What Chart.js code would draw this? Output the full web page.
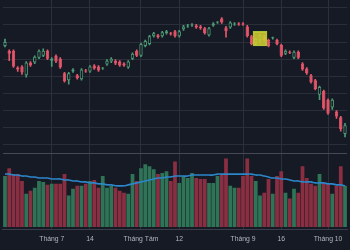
<!DOCTYPE html>
<html>
<head>
<meta charset="utf-8">
<script src="https://cdn.jsdelivr.net/npm/chart.js@4"></script>
<style>
  html, body { margin: 0; padding: 0; background: #161a25; }
  #wrap { width: 350px; height: 250px; }
</style>
</head>
<body>
<div id="wrap"><canvas id="chart"></canvas></div>
<script>
// daily candles, price in thousand VND
const opens = [25.3,24.8,24.8,23.1,23.2,22.3,23.6,23.6,24.1,24.3,24.8,23.8,24.3,24.0,22.5,21.8,22.7,22.3,21.9,22.8,
  22.7,23.3,23.2,23.0,23.4,23.7,23.8,23.7,23.5,23.1,24.0,24.8,24.3,25.3,25.5,26.3,26.4,26.3,26.6,26.6,
  26.8,26.3,27.0,27.3,27.4,27.4,27.3,27.1,26.4,27.4,27.7,28.1,27.2,27.2,27.5,27.6,27.6,27.3,26.3,25.6,
  25.9,26.3,25.9,26.1,25.9,25.4,24.5,24.7,24.1,24.7,23.5,23.0,22.3,21.8,20.3,20.7,19.8,19.0,18.6,18.0,16.3];
const closes = [25.7,24.5,23.2,22.9,22.6,23.6,23.3,24.2,24.8,24.8,24.0,24.0,23.7,23.1,21.7,22.5,22.9,22.0,22.9,22.7,
  23.2,23.0,22.8,23.0,23.8,24.0,23.5,23.3,23.3,23.7,24.5,24.3,25.5,25.8,26.3,26.6,26.2,26.7,26.8,26.5,
  26.3,26.8,27.3,27.4,27.5,27.2,27.1,26.6,27.1,27.6,27.7,27.7,26.8,27.7,27.6,27.5,27.5,26.3,25.5,26.0,
  26.4,25.9,25.3,26.1,25.5,24.3,24.8,24.6,24.7,24.1,22.9,22.5,21.6,20.9,21.1,18.9,18.4,19.8,18.1,16.8,17.2];
const highs = [26.0,24.9,24.9,23.2,23.3,23.7,23.7,24.3,24.9,25.0,24.9,24.1,24.4,24.1,22.6,22.6,23.0,22.4,23.0,22.9,
  23.3,23.4,23.3,23.1,23.9,24.1,23.9,23.8,23.6,23.8,24.6,24.9,25.6,25.9,26.4,26.7,26.5,26.8,26.9,26.7,
  26.9,26.9,27.4,27.5,27.6,27.5,27.4,27.2,27.2,27.7,27.8,28.2,27.3,27.8,27.7,27.7,27.7,27.4,26.4,26.1,
  26.5,26.4,26.0,26.2,26.0,25.5,24.9,24.8,24.8,24.8,23.6,23.1,22.4,21.9,21.2,20.8,19.9,19.9,18.7,18.1,17.4];
const lows = [25.2,23.8,23.1,22.7,22.4,22.1,23.2,23.5,24.0,24.2,23.9,23.2,23.6,23.0,21.6,21.4,22.6,21.9,21.8,22.6,
  22.6,22.9,22.7,22.9,23.3,23.6,23.4,23.2,23.2,23.0,23.9,24.2,24.2,25.2,25.4,26.2,26.1,26.2,26.5,26.4,
  26.2,26.2,26.9,27.2,27.3,27.1,27.0,26.5,26.3,27.3,27.6,27.6,26.2,27.1,27.4,27.4,27.4,26.2,25.4,25.4,
  25.7,25.8,25.2,26.0,25.4,24.2,24.4,24.5,24.0,24.0,22.8,22.4,21.5,20.8,19.8,18.8,18.3,18.8,17.9,16.6,16.0];
// volume, million shares
const volumes = [5.2,6.0,5.4,5.4,4.7,3.4,3.7,4.0,4.7,4.6,4.3,4.4,4.4,4.4,5.4,3.2,3.9,4.2,4.2,4.4,
  4.7,4.8,4.0,5.2,4.0,4.2,4.0,3.7,3.5,3.4,5.4,4.7,6.0,6.4,6.2,5.9,5.4,5.5,5.7,4.7,
  6.7,4.5,5.2,5.0,5.5,5.0,4.9,4.9,4.5,4.5,5.2,5.4,7.0,4.2,4.0,4.0,5.2,7.0,5.2,4.7,
  3.2,3.5,4.9,3.4,5.2,5.7,3.5,2.9,3.9,3.5,6.2,5.0,4.4,4.2,5.4,4.5,4.4,3.4,4.2,6.2,4.2];
const volumeMA = [5.4,5.4,5.3,5.3,5.2,5.2,5.1,5.1,5.0,5.0,5.0,4.9,4.9,4.9,4.8,4.8,4.7,4.7,4.6,4.6,
  4.5,4.5,4.4,4.4,4.3,4.3,4.2,4.2,4.2,4.3,4.4,4.5,4.6,4.7,4.8,4.9,5.0,5.0,5.1,5.1,
  5.2,5.2,5.2,5.2,5.3,5.3,5.3,5.3,5.3,5.3,5.4,5.4,5.4,5.4,5.4,5.4,5.4,5.4,5.4,5.3,
  5.3,5.2,5.1,5.0,5.0,4.9,4.9,4.8,4.7,4.7,4.6,4.6,4.6,4.5,4.5,4.5,4.4,4.4,4.3,4.3,4.2];

const tickIndex = [11, 20, 32, 41, 56, 65, 76];
const tickText = ['Tháng 7', '14', 'Tháng Tám', '12', 'Tháng 9', '16', 'Tháng 10'];
const priceGrid = [29.2, 27.45, 25.7, 23.95, 22.2, 20.45, 18.7, 16.95, 15.2, 14.3];

// highlighted zone (price range) on one session
const markIndex = 60;
const markRange = [25.3, 26.8];

const UP = '#4c9a75', DOWN = '#e4566b', BG = '#161a25';
const labels = opens.map((_, i) => {
  const k = tickIndex.indexOf(i);
  return k >= 0 ? tickText[k] : '';
});
const isUp = opens.map((o, i) => closes[i] >= o);

new Chart(document.getElementById('chart'), {
  type: 'bar',
  data: {
    labels: labels,
    datasets: [
      {
        label: 'mark',
        data: labels.map((_, i) => i === markIndex ? markRange : null),
        yAxisID: 'y',
        grouped: false,
        barThickness: 14,
        backgroundColor: 'rgba(206,204,48,0.88)',
        borderColor: '#a9c23a',
        borderWidth: 1,
        borderSkipped: false,
        order: 0
      },
      {
        label: 'body',
        data: opens.map((o, i) => [o, closes[i]]),
        yAxisID: 'y',
        grouped: false,
        barPercentage: 0.8,
        categoryPercentage: 1,
        backgroundColor: isUp.map(u => u ? BG : DOWN),
        borderColor: isUp.map(u => u ? UP : DOWN),
        borderWidth: 1,
        borderSkipped: false,
        minBarLength: 1,
        order: 1
      },
      {
        label: 'wick',
        data: lows.map((l, i) => [l, highs[i]]),
        yAxisID: 'y',
        grouped: false,
        barThickness: 1,
        backgroundColor: isUp.map(u => u ? UP : DOWN),
        order: 2
      },
      {
        type: 'line',
        label: 'MA',
        data: volumeMA,
        yAxisID: 'yv',
        borderColor: '#2c86c9',
        borderWidth: 1.6,
        pointRadius: 0,
        tension: 0.35,
        order: 3
      },
      {
        label: 'volume',
        data: volumes,
        yAxisID: 'yv',
        grouped: false,
        barPercentage: 0.88,
        categoryPercentage: 1,
        backgroundColor: isUp.map(u => u ? '#2f7457' : '#8a2f42'),
        order: 4
      }
    ]
  },
  options: {
    responsive: true,
    maintainAspectRatio: false,
    animation: false,
    layout: { padding: { bottom: 2 } },
    plugins: { legend: { display: false }, tooltip: { enabled: false } },
    scales: {
      x: {
        offset: true,
        grid: {
          offset: false,
          drawTicks: false,
          color: (ctx) => (ctx.tick && ctx.tick.label) ? '#2c303b' : 'rgba(0,0,0,0)'
        },
        border: { display: true, color: '#3a3e4a' },
        ticks: {
          autoSkip: false,
          maxRotation: 0,
          padding: 5,
          color: '#b2b5be',
          font: { family: "'Liberation Sans', Arial, sans-serif", size: 6.8 }
        }
      },
      y: {
        position: 'left',
        min: 6.5,
        max: 30,
        afterBuildTicks: (axis) => { axis.ticks = priceGrid.map(v => ({ value: v })); },
        grid: {
          drawTicks: false,
          color: (ctx) => ctx.tick && ctx.tick.value === 14.3 ? '#454955' : '#2a2e39'
        },
        border: { display: false },
        ticks: { display: false }
      },
      yv: {
        display: false,
        min: -0.3,
        max: 23.2
      }
    }
  }
});
</script>
</body>
</html>
